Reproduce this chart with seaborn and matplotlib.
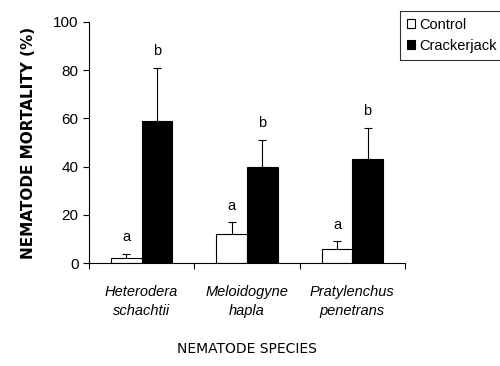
import pandas as pd
import matplotlib.pyplot as plt
import seaborn as sns

# values
species = ['Heterodera\nschachtii', 'Meloidogyne\nhapla', 'Pratylenchus\npenetrans']
treatments = ['Control', 'Crackerjack']
control_mean = [2, 12, 6]
control_err = [2, 5, 3]
crack_mean = [59, 40, 43]
crack_err = [22, 11, 13]
control_letters = ['a', 'a', 'a']
crack_letters = ['b', 'b', 'b']

df = pd.DataFrame({
    'Species': species * 2,
    'Treatment': ['Control'] * 3 + ['Crackerjack'] * 3,
    'Mortality': control_mean + crack_mean,
})

sns.set_style('ticks')
plt.rcParams['font.family'] = ['Liberation Sans', 'DejaVu Sans']
plt.rcParams['text.color'] = 'black'
plt.rcParams['axes.labelcolor'] = 'black'
plt.rcParams['xtick.color'] = 'black'
plt.rcParams['ytick.color'] = 'black'

fig = plt.figure(figsize=(5, 3.66), dpi=100)
ax = fig.add_axes([0.178, 0.281, 0.632, 0.659])

sns.barplot(data=df, x='Species', y='Mortality', hue='Treatment', order=species,
            hue_order=treatments, palette=['white', 'black'], edgecolor='black',
            linewidth=0.8, width=0.58, errorbar=None, ax=ax, zorder=2)

# error bars and significance letters
bars_c = ax.containers[0]
bars_k = ax.containers[1]
for i in range(3):
    pc = bars_c[i]
    xc = pc.get_x() + pc.get_width() / 2
    ax.errorbar(xc, control_mean[i], yerr=control_err[i], fmt='none', ecolor='black',
                elinewidth=0.8, capsize=3, capthick=0.8, zorder=1)
    ax.text(xc, control_mean[i] + control_err[i] + 4, control_letters[i],
            ha='center', va='bottom', fontsize=10.5)
    pk = bars_k[i]
    xk = pk.get_x() + pk.get_width() / 2
    ax.errorbar(xk, crack_mean[i], yerr=[[0], [crack_err[i]]], fmt='none', ecolor='black',
                elinewidth=0.8, capsize=3, capthick=0.8, zorder=1)
    ax.text(xk, crack_mean[i] + crack_err[i] + 4, crack_letters[i],
            ha='center', va='bottom', fontsize=10.5)

ax.set_ylim(0, 100)
ax.set_xlim(-0.5, 2.5)
ax.set_yticks([0, 20, 40, 60, 80, 100])
ax.tick_params(axis='y', labelsize=11, length=4, width=0.8)

# group boundary ticks, labels centred under each group
ax.set_xticks([-0.5, 0.5, 1.5, 2.5])
ax.set_xticklabels([])
ax.tick_params(axis='x', which='major', length=4, width=0.8)
ax.set_xticks([0, 1, 2], minor=True)
ax.set_xticklabels(species, minor=True, style='italic', fontsize=10.5, linespacing=1.45)
ax.tick_params(axis='x', which='minor', length=0, pad=16)

sns.despine(ax=ax)
for s in ['left', 'bottom']:
    ax.spines[s].set_linewidth(0.8)
    ax.spines[s].set_color('black')

ax.set_xlabel('NEMATODE SPECIES', fontsize=10, family=['DejaVu Sans'], labelpad=17)
ax.set_ylabel('NEMATODE MORTALITY (%)', fontsize=11, fontweight='bold',
              family=['DejaVu Sans'], labelpad=12)

leg = ax.legend(loc='upper left', bbox_to_anchor=(0.985, 1.045), frameon=True,
                fancybox=False, edgecolor='black', fontsize=10.5,
                handlelength=0.55, handleheight=0.55, handletextpad=0.3,
                borderpad=0.45, labelspacing=0.5, borderaxespad=0)
leg.get_frame().set_linewidth(0.8)

fig.savefig('out.png', dpi=100)
